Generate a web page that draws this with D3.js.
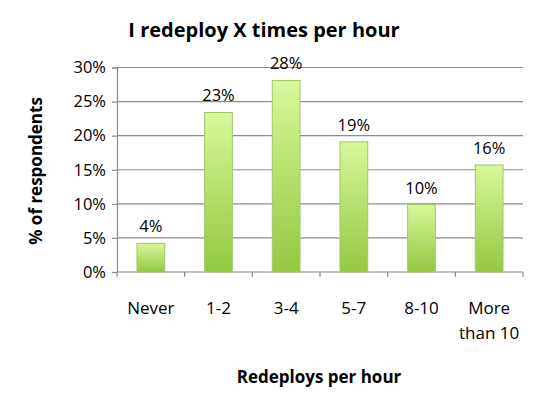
<!DOCTYPE html>
<html>
<head>
<meta charset="utf-8">
<script src="https://cdn.jsdelivr.net/npm/d3@7"></script>
<style>
body { margin: 0; background: #fff; }
text { font-family: "Open Sans", "Liberation Sans", sans-serif; fill: #000; }
</style>
</head>
<body>
<div class="chart"></div>
<script>
var categories = ["Never", "1-2", "3-4", "5-7", "8-10", "More than 10"];
var values = [4.2, 23.4, 28.1, 19.1, 9.9, 15.7];
var valueLabels = ["4%", "23%", "28%", "19%", "10%", "16%"];
var yTicks = [0, 5, 10, 15, 20, 25, 30];

var chartWidth = 536, chartHeight = 397;
var plotLeft = 117, plotRight = 523, plotTop = 67.5, plotBottom = 272;

var svg = d3.select(".chart")
            .append("svg")
            .attr("width", chartWidth)
            .attr("height", chartHeight);

var defs = svg.append("defs");
var grad = defs.append("linearGradient")
               .attr("id", "barGrad")
               .attr("x1", 0).attr("y1", 0).attr("x2", 0).attr("y2", 1);
grad.append("stop").attr("offset", "0%").attr("stop-color", "#d8f79a");
grad.append("stop").attr("offset", "100%").attr("stop-color", "#94c840");

var x = d3.scaleBand()
          .domain(categories)
          .range([plotLeft, plotRight])
          .paddingInner(0.59)
          .paddingOuter(0.295);

var y = d3.scaleLinear()
          .domain([0, 30])
          .range([plotBottom, plotTop]);

// gridlines
svg.append("g")
   .selectAll("line")
   .data(yTicks.slice(1))
   .enter().append("line")
   .attr("x1", plotLeft)
   .attr("x2", plotRight)
   .attr("y1", function(d) { return y(d); })
   .attr("y2", function(d) { return y(d); })
   .attr("stroke", "#8c8c8c")
   .attr("stroke-width", 1.2);

// y axis
var yAxis = svg.append("g")
   .attr("transform", "translate(" + plotLeft + ",0)")
   .call(d3.axisLeft(y).tickValues(yTicks).tickSize(5).tickPadding(6)
           .tickFormat(function(d) { return d + "%"; }));
yAxis.select(".domain").attr("stroke", "#8c8c8c").attr("stroke-width", 1.2);
yAxis.selectAll(".tick line").attr("stroke", "#8c8c8c").attr("stroke-width", 1.2);
yAxis.selectAll("text")
     .style("font-size", "16.5px")
     .style("font-family", "'Open Sans', sans-serif")
     .attr("fill", "#000");

// x axis: tick marks between categories
svg.append("line")
   .attr("x1", plotLeft).attr("x2", plotRight)
   .attr("y1", plotBottom).attr("y2", plotBottom)
   .attr("stroke", "#8c8c8c").attr("stroke-width", 1.2);

var step = x.step();
svg.append("g")
   .selectAll("line")
   .data(d3.range(categories.length + 1))
   .enter().append("line")
   .attr("x1", function(d) { return plotLeft + d * step; })
   .attr("x2", function(d) { return plotLeft + d * step; })
   .attr("y1", plotBottom)
   .attr("y2", plotBottom + 5)
   .attr("stroke", "#8c8c8c").attr("stroke-width", 1.2);

// bars
svg.append("g")
   .selectAll("rect")
   .data(values)
   .enter().append("rect")
   .attr("x", function(d, i) { return x(categories[i]); })
   .attr("y", function(d) { return y(d); })
   .attr("width", x.bandwidth())
   .attr("height", function(d) { return plotBottom - y(d); })
   .attr("fill", "url(#barGrad)")
   .attr("stroke", "#a3c86a")
   .attr("stroke-width", 1);

// value labels
svg.append("g")
   .selectAll("text")
   .data(values)
   .enter().append("text")
   .attr("x", function(d, i) { return x(categories[i]) + x.bandwidth() / 2; })
   .attr("y", function(d) { return y(d) - 11; })
   .attr("text-anchor", "middle")
   .style("font-size", "16.5px")
   .text(function(d, i) { return valueLabels[i]; });

// category labels
var catLabels = svg.append("g")
   .selectAll("text")
   .data(categories)
   .enter().append("text")
   .attr("y", 314)
   .attr("text-anchor", "middle")
   .style("font-size", "17px");

catLabels.each(function(d) {
    var t = d3.select(this);
    var lines = d === "More than 10" ? ["More", "than 10"] : [d];
    lines.forEach(function(line, k) {
        t.append("tspan")
         .attr("x", x(d) + x.bandwidth() / 2)
         .attr("dy", k === 0 ? 0 : 25)
         .text(line);
    });
});

// title
svg.append("text")
   .attr("x", 264)
   .attr("y", 37)
   .attr("text-anchor", "middle")
   .style("font-size", "20px")
   .style("font-weight", "bold")
   .text("I redeploy X times per hour");

// axis titles
svg.append("text")
   .attr("transform", "translate(42,171) rotate(-90)")
   .attr("text-anchor", "middle")
   .style("font-size", "17px")
   .style("font-weight", "bold")
   .text("% of respondents");

svg.append("text")
   .attr("x", 319)
   .attr("y", 383)
   .attr("text-anchor", "middle")
   .style("font-size", "17px")
   .style("font-weight", "bold")
   .text("Redeploys per hour");
</script>
</body>
</html>
